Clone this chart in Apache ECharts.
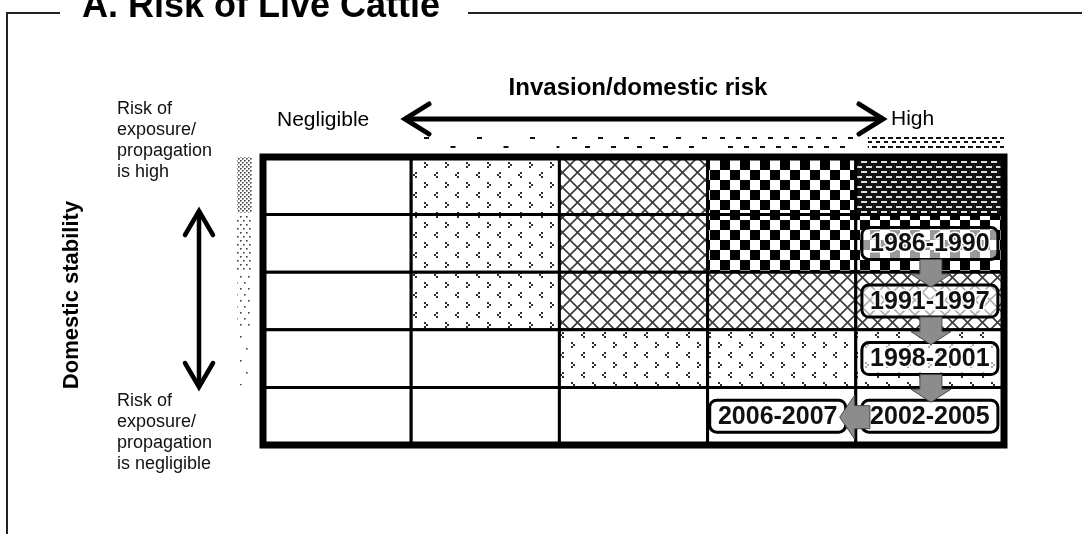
<!DOCTYPE html>
<html>
<head>
<meta charset="utf-8">
<script src="https://cdn.jsdelivr.net/npm/echarts@6/dist/echarts.min.js"></script>
<style>
  html, body { margin: 0; padding: 0; background: #fff; }
  #chart { width: 1082px; height: 534px; }
</style>
</head>
<body>
<div id="chart"></div>
<script>
// columns = invasion/domestic risk (negligible -> high), rows = domestic stability (top = exposure high)
const cols = ['c0', 'c1', 'c2', 'c3', 'c4'];
const rows = ['r0', 'r1', 'r2', 'r3', 'r4'];
// 0 blank, 1 chevron dots, 2 crosshatch, 3 checker, 4 dense
const riskLevels = [
  [0, 1, 2, 3, 4],
  [0, 1, 2, 3, 3],
  [0, 1, 2, 2, 2],
  [0, 0, 1, 1, 1],
  [0, 0, 0, 0, 0]
];
const periods = ['1986-1990', '1991-1997', '1998-2001', '2002-2005', '2006-2007'];
const periodCol = [4, 4, 4, 4, 3];
const periodRow = [1, 2, 3, 4, 4];

const FONT = '"Liberation Sans", Arial, sans-serif';
const GRID = { left: 263, top: 157, width: 741, height: 288 };
const BOX_W = 136, BOX_H = 32;

// pattern tiles
function makeTile(w, h, draw) {
  const c = document.createElement('canvas');
  c.width = w; c.height = h;
  const ctx = c.getContext('2d');
  ctx.fillStyle = '#fff';
  ctx.fillRect(0, 0, w, h);
  draw(ctx, w, h);
  return { image: c, repeat: 'repeat' };
}
const chevTile = makeTile(21, 20, function (ctx) {
  ctx.fillStyle = '#2e2e2e';
  [[4, 2], [6, 4], [4, 6], [16, 12], [14, 14], [16, 16]].forEach(function (d) {
    ctx.fillRect(d[0], d[1], 2, 2);
  });
});
const crossTile = makeTile(15, 15, function (ctx) {
  ctx.strokeStyle = '#3a3a3a';
  ctx.lineWidth = 1.6;
  ctx.beginPath();
  ctx.moveTo(-2, -2); ctx.lineTo(17, 17);
  ctx.moveTo(17, -2); ctx.lineTo(-2, 17);
  ctx.stroke();
});
const checkTile = makeTile(20, 20, function (ctx) {
  ctx.fillStyle = '#000';
  ctx.fillRect(0, 0, 10, 10);
  ctx.fillRect(10, 10, 10, 10);
});
const denseTile = makeTile(10, 10, function (ctx) {
  ctx.fillStyle = '#111';
  ctx.fillRect(0, 0, 10, 10);
  ctx.fillStyle = '#dedede';
  ctx.fillRect(1, 1, 6, 2);
  ctx.fillRect(6, 6, 6, 2);
  ctx.fillRect(-4, 6, 6, 2);
});
const levelFill = ['#fff', chevTile, crossTile, checkTile, denseTile];

// top legend band (dashes getting denser to the right)
function dashTile(w, rowsY) {
  return makeTile(w, 15, function (ctx) {
    ctx.fillStyle = '#111';
    rowsY.forEach(function (y, i) {
      ctx.fillRect((i % 2) * w / 2, y, 5, 2);
    });
  });
}
const bandTiles = [null, dashTile(53, [2, 11]), dashTile(26, [2, 11]), dashTile(16, [2, 11]), dashTile(8, [2, 6, 11])];
// left legend band (dots getting sparser downward)
function dotTile(w, h) {
  return makeTile(w, h, function (ctx) {
    ctx.fillStyle = '#444';
    ctx.fillRect(0, 0, 1.6, 1.6);
    ctx.fillRect(w / 2, h / 2, 1.6, 1.6);
  });
}
const sideTiles = [dotTile(4, 4), dotTile(6, 8), dotTile(8, 12), dotTile(12, 24)];

const cellData = [];
riskLevels.forEach(function (r, ri) {
  r.forEach(function (lv, ci) { cellData.push([ci, ri, lv]); });
});
const periodData = periods.map(function (p, i) { return [periodCol[i], periodRow[i]]; });
const arrowData = [];
for (let i = 1; i < periods.length; i++) {
  arrowData.push([periodCol[i - 1], periodRow[i - 1], periodCol[i], periodRow[i]]);
}

const colW = GRID.width / cols.length, rowH = GRID.height / rows.length;
const bandRects = [];
for (let i = 1; i < cols.length; i++) {
  bandRects.push({
    type: 'rect', silent: true,
    shape: { x: GRID.left + colW * i + 12, y: 137, width: colW - 12, height: 14 },
    style: { fill: bandTiles[i] }
  });
}
for (let i = 0; i < sideTiles.length; i++) {
  bandRects.push({
    type: 'rect', silent: true,
    shape: { x: 237, y: GRID.top + rowH * i, width: 15, height: rowH - 2 },
    style: { fill: sideTiles[i] }
  });
}

const chart = echarts.init(document.getElementById('chart'));
const option = {
  animation: false,
  backgroundColor: '#fff',
  grid: GRID,
  xAxis: { type: 'category', data: cols, show: false },
  yAxis: { type: 'category', data: rows, inverse: true, show: false },
  graphic: {
    elements: [
      // frame
      { type: 'polyline', silent: true, shape: { points: [[60, 13], [7, 13], [7, 534]] }, style: { stroke: '#222', lineWidth: 2, fill: null } },
      { type: 'line', silent: true, shape: { x1: 468, y1: 13, x2: 1082, y2: 13 }, style: { stroke: '#222', lineWidth: 2 } },
      { type: 'text', silent: true, x: 82, y: 7, style: { text: 'A. Risk of Live Cattle', font: 'bold 36px ' + FONT, fill: '#000', verticalAlign: 'middle' } },
      // horizontal axis
      { type: 'text', silent: true, x: 638, y: 88, style: { text: 'Invasion/domestic risk', font: 'bold 24px ' + FONT, fill: '#000', align: 'center', verticalAlign: 'middle' } },
      { type: 'text', silent: true, x: 277, y: 120, style: { text: 'Negligible', font: '21px ' + FONT, fill: '#000', verticalAlign: 'middle' } },
      { type: 'text', silent: true, x: 891, y: 119, style: { text: 'High', font: '21px ' + FONT, fill: '#000', verticalAlign: 'middle' } },
      { type: 'line', silent: true, shape: { x1: 405, y1: 119, x2: 883, y2: 119 }, style: { stroke: '#000', lineWidth: 5 } },
      { type: 'polyline', silent: true, shape: { points: [[429, 104], [405, 119], [429, 134]] }, style: { stroke: '#000', lineWidth: 5, lineCap: 'round', fill: null } },
      { type: 'polyline', silent: true, shape: { points: [[859, 104], [883, 119], [859, 134]] }, style: { stroke: '#000', lineWidth: 5, lineCap: 'round', fill: null } },
      // vertical axis
      { type: 'text', silent: true, x: 72, y: 295, rotation: Math.PI / 2, style: { text: 'Domestic stability', font: 'bold 22px ' + FONT, fill: '#000', align: 'center', verticalAlign: 'middle' } },
      { type: 'line', silent: true, shape: { x1: 199, y1: 211, x2: 199, y2: 387 }, style: { stroke: '#000', lineWidth: 4.5 } },
      { type: 'polyline', silent: true, shape: { points: [[185, 235], [199, 211], [213, 235]] }, style: { stroke: '#000', lineWidth: 4.5, lineCap: 'round', fill: null } },
      { type: 'polyline', silent: true, shape: { points: [[185, 363], [199, 387], [213, 363]] }, style: { stroke: '#000', lineWidth: 4.5, lineCap: 'round', fill: null } },
      { type: 'text', silent: true, x: 117, y: 98.5, style: { text: 'Risk of\nexposure/\npropagation\nis high', font: '18px ' + FONT, lineHeight: 21, fill: '#111' } },
      { type: 'text', silent: true, x: 117, y: 391, style: { text: 'Risk of\nexposure/\npropagation\nis negligible', font: '18px ' + FONT, lineHeight: 21, fill: '#111' } },
      // outer border of the matrix
      { type: 'rect', silent: true, z: 10, shape: { x: GRID.left, y: GRID.top, width: GRID.width, height: GRID.height }, style: { fill: null, stroke: '#000', lineWidth: 7 } }
    ].concat(bandRects)
  },
  series: [
    {
      type: 'custom',
      name: 'cells',
      z: 2,
      data: cellData,
      renderItem: function (params, api) {
        const c = api.coord([api.value(0), api.value(1)]);
        const s = api.size([1, 1]);
        return {
          type: 'rect',
          shape: { x: c[0] - s[0] / 2, y: c[1] - s[1] / 2, width: s[0], height: s[1] },
          style: { fill: levelFill[api.value(2)], stroke: '#000', lineWidth: 3 }
        };
      }
    },
    {
      type: 'custom',
      name: 'periods',
      z: 5,
      data: periodData,
      renderItem: function (params, api) {
        const c = api.coord([api.value(0), api.value(1)]);
        // the last box sits a little left of its cell centre, as in the source
        const dx = api.value(0) < 4 ? -4 : 0;
        return {
          type: 'group',
          children: [
            {
              type: 'rect',
              shape: { x: c[0] + dx - BOX_W / 2, y: c[1] - BOX_H / 2, width: BOX_W, height: BOX_H, r: 7 },
              style: { fill: 'rgba(255,255,255,0.6)', stroke: '#000', lineWidth: 3 }
            },
            {
              type: 'text',
              x: c[0] + dx, y: c[1] + 1,
              style: {
                text: periods[params.dataIndex], font: 'bold 25px ' + FONT,
                fill: '#111', stroke: '#fff', lineWidth: 3, strokeFirst: true,
                align: 'center', verticalAlign: 'middle'
              }
            }
          ]
        };
      }
    },
    {
      type: 'custom',
      name: 'moves',
      z: 6,
      data: arrowData,
      renderItem: function (params, api) {
        const a = api.coord([api.value(0), api.value(1)]);
        const b = api.coord([api.value(2), api.value(3)]);
        let pts;
        if (Math.abs(a[0] - b[0]) < 1) {
          const x = a[0] + 1, y0 = a[1] + BOX_H / 2, y1 = b[1] - BOX_H / 2 + 2;
          pts = [[x - 11, y0], [x + 11, y0], [x + 11, y1 - 13], [x + 20, y1 - 13], [x, y1], [x - 20, y1 - 13], [x - 11, y1 - 13]];
        } else {
          const y = a[1] + 1, x0 = a[0] - BOX_W / 2 + 8, x1 = b[0] - 4 + BOX_W / 2 - 6;
          pts = [[x0, y - 11.5], [x0, y + 11.5], [x1 + 15, y + 11.5], [x1 + 15, y + 22], [x1, y], [x1 + 15, y - 22], [x1 + 15, y - 11.5]];
        }
        return {
          type: 'polygon',
          shape: { points: pts },
          style: { fill: '#8c8c8c', stroke: '#4a4a4a', lineWidth: 1 }
        };
      }
    }
  ]
};
chart.setOption(option);
</script>
</body>
</html>
